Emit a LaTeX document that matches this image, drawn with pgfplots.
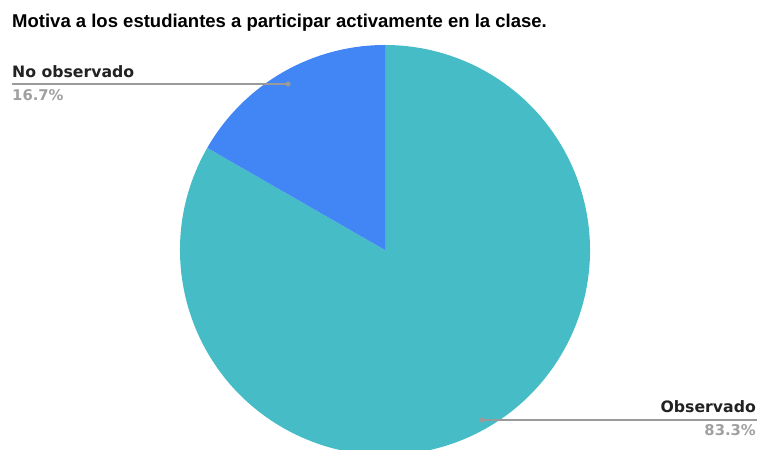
\documentclass[border=0pt]{standalone}
\usepackage{pgfplots}
\pgfplotsset{compat=1.18}
\usepackage{pgfplotstable}
\usepackage{fontspec}
\setmainfont{Liberation Sans}
\newfontfamily\labelfont{DejaVu Sans}
\definecolor{cteal}{HTML}{46BDC6}
\definecolor{cblue}{HTML}{4285F4}
\definecolor{cgrayt}{HTML}{A0A0A0}
\definecolor{cline}{HTML}{9A9A9A}
\definecolor{cdark}{HTML}{222222}

\pgfplotstableread{
value
16.7
83.3
}\piedata
\pgfplotstablegetelem{0}{value}\of\piedata \let\va\pgfplotsretval
\pgfplotstablegetelem{1}{value}\of\piedata \let\vb\pgfplotsretval
\pgfmathsetmacro\angA{90+3.6*\va}
\pgfmathsetmacro\midA{90+1.8*\va}
\pgfmathsetmacro\midB{\angA+1.8*\vb}

\begin{document}
\begin{tikzpicture}
\begin{axis}[x=1pt,y=1pt,xmin=0,xmax=761,ymin=0,ymax=450,
  hide axis, scale only axis, clip=true]
\path (axis cs:0,0) rectangle (axis cs:761,450);
% slices
\fill[cteal] (axis cs:385,200) -- ++(\angA:205) arc[start angle=\angA, end angle=450, radius=205] -- cycle;
\fill[cblue] (axis cs:385,200) -- ++(90:205) arc[start angle=90, end angle=\angA, radius=205] -- cycle;
% leader lines
\draw[cline, line width=1.5pt] (axis cs:12,366) -- (axis cs:288,366);
\fill[cline] (axis cs:288,366) circle[radius=2.6];
\draw[cline, line width=1.5pt] (axis cs:482,30) -- (axis cs:757,30);
\fill[cline] (axis cs:482,30) circle[radius=2.6];
% title
\node[anchor=base west, inner sep=0pt, font=\fontsize{18.5}{20}\selectfont\bfseries] at (axis cs:12,422) {Motiva a los estudiantes a participar activamente en la clase.};
% labels
\node[anchor=base west, inner sep=0pt, text=cdark, font=\labelfont\fontsize{15.7}{18}\selectfont\bfseries] at (axis cs:12,372.3) {No observado};
\node[anchor=base west, inner sep=0pt, text=cgrayt, font=\labelfont\fontsize{14.8}{18}\selectfont\bfseries] at (axis cs:12,349.5) {16.7\%};
\node[anchor=base east, inner sep=0pt, text=cdark, font=\labelfont\fontsize{15.7}{18}\selectfont\bfseries] at (axis cs:756,37.3) {Observado};
\node[anchor=base east, inner sep=0pt, text=cgrayt, font=\labelfont\fontsize{14.8}{18}\selectfont\bfseries] at (axis cs:756,14.7) {83.3\%};
\end{axis}
\pgfresetboundingbox
\path (current axis.south west) rectangle (current axis.north east);
\end{tikzpicture}
\end{document}
